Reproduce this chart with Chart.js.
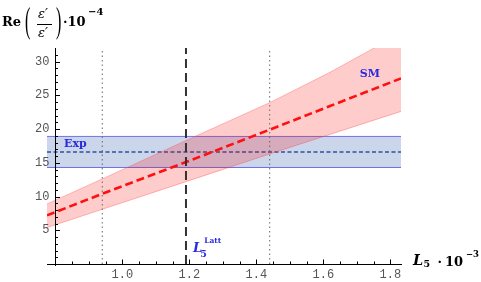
<!DOCTYPE html>
<html>
<head>
<meta charset="utf-8">
<script src="https://cdn.jsdelivr.net/npm/chart.js@4.4.1/dist/chart.umd.min.js"></script>
<style>
  html, body { margin: 0; padding: 0; background: #fff; }
  #wrap { position: relative; width: 481px; height: 282px; overflow: hidden; }
  #chart { position: absolute; left: 0; top: 0; }
  .t { position: absolute; font-family: 'DejaVu Serif', serif; font-weight: bold; color: #000; white-space: nowrap; line-height: 1; }
  .it { font-style: italic; }
  .rg { font-weight: normal; }
  .par { font-family: 'Liberation Serif', serif; font-weight: normal; font-size: 16px; transform: scaleY(2.3); transform-origin: 50% 9.4px; }
</style>
</head>
<body>
<div id="wrap">
  <canvas id="chart" width="481" height="282"></canvas>

  <!-- y axis title: Re(ε'/ε')·10^-4 -->
  <span class="t" style="left:2px; top:15px; font-size:13px;">Re</span>
  <span class="t par" style="left:25px; top:13.6px;">(</span>
  <span class="t it rg" style="left:38px; top:7px; font-size:13px;">ε′</span>
  <span style="position:absolute; left:37px; top:24px; width:15px; height:1px; background:#000;"></span>
  <span class="t it rg" style="left:38px; top:25.5px; font-size:13px;">ε′</span>
  <span class="t par" style="left:56px; top:13.6px;">)</span>
  <span class="t" style="left:63px; top:15px; font-size:13px;">·10</span>
  <span class="t" style="left:88px; top:7px; font-size:10px;">−4</span>

  <!-- x axis title: L5 · 10^-3 -->
  <span class="t it" style="left:413px; top:253.4px; font-size:14.5px;">L</span>
  <span class="t" style="left:423.5px; top:258.7px; font-size:9.5px;">5</span>
  <span class="t" style="left:437.5px; top:254.7px; font-size:13px;">·</span>
  <span class="t" style="left:445px; top:254.7px; font-size:13px;">10</span>
  <span class="t" style="left:466px; top:250.1px; font-size:8.5px;">−3</span>
</div>

<script>
// 데이터: L5 값 (x), SM 예측 중앙값과 오차 범위
const xPts = [0.775, 0.94, 1.19, 1.44, 1.62, 1.832];
const smCentral = [7.2, 10.4, 15.1, 19.9, 23.4, 27.5];
const smUpper = [8.9, 12.6, 18.3, 23.9, 28.4, 34.2];
const smLower = [5.4, 8.1, 12.2, 16.3, 19.2, 22.6];

// 실험값 밴드: [하한, 중앙, 상한]
const expBand = [14.3, 16.6, 18.9];

// 격자 계산 L5: [하한, 중앙, 상한]
const l5Latt = [0.94, 1.19, 1.44];

// 축 눈금 라벨
const xTickLabels = ['1.0', '1.2', '1.4', '1.6', '1.8'];
const yTickLabels = ['5', '10', '15', '20', '25', '30'];

const xRange = [0.775, 1.832];
const yRange = [0, 32];
const yAxisAt = 0.8;
// y 라벨 위치 (축보다 약간 왼쪽 - 위치 지정 축은 padding을 무시함)
const yLabelAt = 0.782;

function pts(xs, ys) {
    return xs.map((x, i) => ({ x: x, y: ys[i] }));
}

function flat(v) {
    return [{ x: xRange[0], y: v }, { x: xRange[1], y: v }];
}

function vline(v) {
    return [{ x: v, y: yRange[0] }, { x: v, y: yRange[1] }];
}

function isMajorX(v) {
    return Math.abs(v * 5 - Math.round(v * 5)) < 1e-6;
}

// y축 선, 안쪽으로 향하는 눈금, 주석 라벨 그리기
const decorations = {
    id: 'decorations',
    afterDraw(chart) {
        const ctx = chart.ctx;
        const xs = chart.scales.x;
        const ys = chart.scales.y;
        const x0 = Math.round(xs.getPixelForValue(yAxisAt)) + 0.5;
        const y0 = ys.getPixelForValue(0);

        ctx.save();
        ctx.strokeStyle = '#000';
        ctx.lineWidth = 1;
        ctx.beginPath();
        ctx.moveTo(x0, chart.chartArea.top);
        ctx.lineTo(x0, y0 + 2);
        ys.ticks.forEach(t => {
            if (t.value <= 0 || t.value > 31.5) return;
            const py = Math.round(ys.getPixelForValue(t.value)) + 0.5;
            const len = t.value % 5 === 0 ? 4.5 : 2.5;
            ctx.moveTo(x0, py);
            ctx.lineTo(x0 + len, py);
        });
        xs.ticks.forEach(t => {
            const px = Math.round(xs.getPixelForValue(t.value)) + 0.5;
            const len = isMajorX(t.value) ? 4.5 : 2.5;
            ctx.moveTo(px, y0);
            ctx.lineTo(px, y0 - len);
        });
        ctx.stroke();

        // 주석 라벨
        ctx.fillStyle = '#2a2ae0';
        ctx.textBaseline = 'alphabetic';
        ctx.font = "bold 11px 'DejaVu Serif'";
        ctx.textAlign = 'center';
        ctx.fillText('SM', xs.getPixelForValue(1.739), ys.getPixelForValue(27.7));
        ctx.textAlign = 'left';
        ctx.fillText('Exp', xs.getPixelForValue(0.826), ys.getPixelForValue(17.3));

        const lx = xs.getPixelForValue(1.211);
        const ly = ys.getPixelForValue(1.8);
        ctx.font = "bold italic 13px 'DejaVu Serif'";
        ctx.fillText('L', lx, ly);
        const w = ctx.measureText('L').width;
        ctx.font = "bold 9.5px 'DejaVu Serif'";
        ctx.fillText('5', lx + w - 2, ly + 5.5);
        ctx.font = "bold 7.5px 'DejaVu Serif'";
        ctx.fillText('Latt', lx + w + 2, ly - 8.5);
        ctx.restore();
    }
};

const lineBase = { pointRadius: 0, tension: 0, fill: false };

const ctx = document.getElementById('chart').getContext('2d');
const chart = new Chart(ctx, {
    type: 'line',
    data: {
        datasets: [
            Object.assign({}, lineBase, {
                data: flat(expBand[2]),
                borderColor: 'rgba(100,100,240,0.9)',
                borderWidth: 1,
                backgroundColor: 'rgba(50,90,170,0.25)',
                fill: '+1',
                order: 10
            }),
            Object.assign({}, lineBase, {
                data: flat(expBand[0]),
                borderColor: 'rgba(100,100,240,0.9)',
                borderWidth: 1,
                order: 11
            }),
            Object.assign({}, lineBase, {
                data: flat(expBand[1]),
                borderColor: 'rgb(85,115,175)',
                borderWidth: 2,
                borderDash: [4, 2.5],
                order: 9
            }),
            Object.assign({}, lineBase, {
                data: pts(xPts, smUpper),
                borderColor: 'rgba(255,70,70,0.45)',
                borderWidth: 0.8,
                backgroundColor: 'rgba(255,0,0,0.2)',
                fill: '+1',
                order: 8
            }),
            Object.assign({}, lineBase, {
                data: pts(xPts, smLower),
                borderColor: 'rgba(255,70,70,0.45)',
                borderWidth: 0.8,
                order: 8
            }),
            Object.assign({}, lineBase, {
                data: pts(xPts, smCentral),
                borderColor: '#ff1010',
                borderWidth: 2.6,
                borderDash: [8, 4],
                order: 7
            }),
            Object.assign({}, lineBase, {
                data: vline(l5Latt[0]),
                borderColor: '#666',
                borderWidth: 1,
                borderDash: [1.5, 3],
                order: 6
            }),
            Object.assign({}, lineBase, {
                data: vline(l5Latt[2]),
                borderColor: '#666',
                borderWidth: 1,
                borderDash: [1.5, 3],
                order: 6
            }),
            Object.assign({}, lineBase, {
                data: vline(l5Latt[1]),
                borderColor: '#333',
                borderWidth: 2,
                borderDash: [9, 5],
                order: 5
            })
        ]
    },
    options: {
        responsive: false,
        animation: false,
        devicePixelRatio: 1,
        layout: {
            padding: { left: 47, right: 80, top: 48, bottom: 18 }
        },
        plugins: {
            legend: { display: false },
            tooltip: { enabled: false },
            filler: { propagate: false }
        },
        scales: {
            x: {
                type: 'linear',
                min: xRange[0],
                max: xRange[1],
                position: { y: 0 },
                grid: { display: false, drawTicks: false },
                border: { display: true, color: '#000', width: 1 },
                afterBuildTicks: function(scale) {
                    // 0.05 간격 눈금, 0.85 ~ 1.8
                    const ticks = [];
                    for (let i = 17; i <= 36; i++) ticks.push({ value: i / 20 });
                    scale.ticks = ticks;
                },
                ticks: {
                    autoSkip: false,
                    maxRotation: 0,
                    padding: 4,
                    color: '#555',
                    font: { family: "'Liberation Mono', monospace", size: 12 },
                    callback: function(value) {
                        const s = (Math.round(value * 100) / 100).toFixed(1);
                        return isMajorX(value) && xTickLabels.includes(s) ? s : '';
                    }
                }
            },
            y: {
                type: 'linear',
                min: yRange[0],
                max: yRange[1],
                position: { x: yLabelAt },
                grid: { display: false, drawTicks: false },
                border: { display: false },
                ticks: {
                    stepSize: 1,
                    autoSkip: false,
                    color: '#555',
                    font: { family: "'Liberation Mono', monospace", size: 12 },
                    callback: function(value) {
                        const s = String(Math.round(value));
                        return yTickLabels.includes(s) && Math.abs(value - Math.round(value)) < 1e-6 ? s : '';
                    }
                }
            }
        }
    },
    plugins: [decorations]
});
</script>
</body>
</html>
